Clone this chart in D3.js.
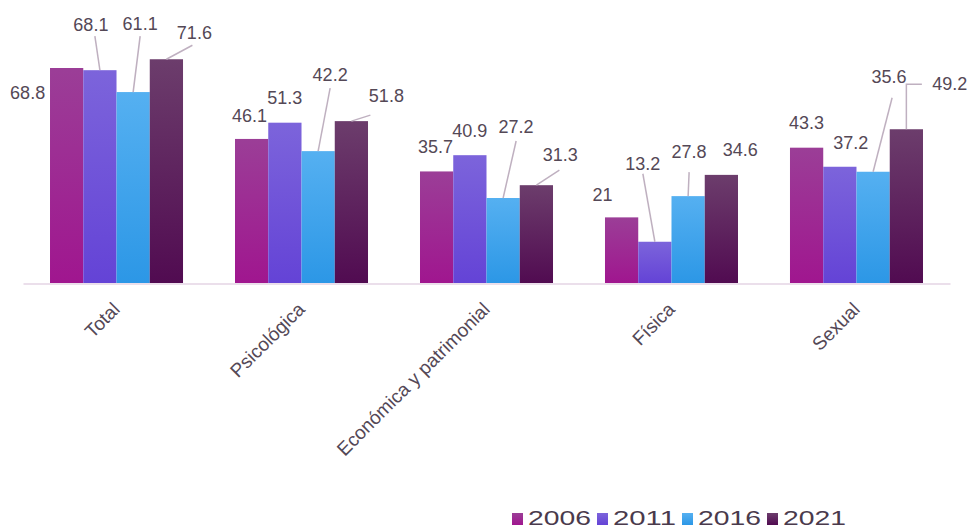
<!DOCTYPE html>
<html>
<head>
<meta charset="utf-8">
<script src="https://cdn.jsdelivr.net/npm/d3@7"></script>
<style>
  html, body { margin: 0; padding: 0; background: #ffffff; }
  svg { display: block; font-family: "Liberation Sans", Arial, sans-serif; }
</style>
</head>
<body>
<svg id="chart" width="968" height="529"></svg>
<script>
// ---- data ----
const categories = ["Total", "Psicológica", "Económica y patrimonial", "Física", "Sexual"];
const years = ["2006", "2011", "2016", "2021"];
const v2006 = [68.8, 46.1, 35.7, 21.0, 43.3];
const v2011 = [68.1, 51.3, 40.9, 13.2, 37.2];
const v2016 = [61.1, 42.2, 27.2, 27.8, 35.6];
const v2021 = [71.6, 51.8, 31.3, 34.6, 49.2];
const labels2006 = ["68.8", "46.1", "35.7", "21", "43.3"];
const labels2011 = ["68.1", "51.3", "40.9", "13.2", "37.2"];
const labels2016 = ["61.1", "42.2", "27.2", "27.8", "35.6"];
const labels2021 = ["71.6", "51.8", "31.3", "34.6", "49.2"];

// ---- layout / style (not data) ----
const colorsTop =    {"2006": "#9b3e97", "2011": "#7c64db", "2016": "#55b0f1", "2021": "#6c3d6c"};
const colorsBottom = {"2006": "#a0168f", "2011": "#6443d6", "2016": "#2c97e6", "2021": "#510b51"};
const textColor = "#544856";
const leaderColor = "#bfb0c0";

// label placement offsets relative to bar top-centre: [dx, dy, leader]
// leader: null | [endDx, endDy] relative to label centre | "elbow"
const labelLayout = {
  "2006": [[-39, 25, null], [-2, -23, null], [-1, -25, null], [-19, -23, null], [0, -25, null]],
  "2011": [[-9, -46, [4, 12]], [0, -25, null], [0, -25, null], [-12, -78, [0, 10]], [11, -24, null]],
  "2016": [[7, -69, [0, 13]], [12, -77, [0, 14]], [13, -71, [0, 14]], [1, -45, [0, 21]], [16, -95, [3, 21]]],
  "2021": [[28, -27, [-2, 13]], [35, -26, [-16, 20]], [24, -31, [-1, 16]], [19, -25, null], [43.5, -46, "elbow"]]
};

const seriesValues = {"2006": v2006, "2011": v2011, "2016": v2016, "2021": v2021};
const seriesLabels = {"2006": labels2006, "2011": labels2011, "2016": labels2016, "2021": labels2021};

const svg = d3.select("#chart");

const x0 = d3.scaleBand().domain(categories).range([23, 950]).paddingInner(0.281).paddingOuter(0.146);
const x1 = d3.scaleBand().domain(years).range([0, x0.bandwidth()]).padding(0);
const y = d3.scaleLinear().domain([0, 80]).range([283, 33]);

// gradients
const defs = svg.append("defs");
years.forEach(yr => {
  const g = defs.append("linearGradient").attr("id", "g" + yr)
    .attr("x1", 0).attr("y1", 0).attr("x2", 0).attr("y2", 1);
  g.append("stop").attr("offset", "0%").attr("stop-color", colorsTop[yr]);
  g.append("stop").attr("offset", "100%").attr("stop-color", colorsBottom[yr]);
});

// bars
const rows = [];
categories.forEach((c, ci) => {
  years.forEach(yr => {
    rows.push({cat: c, ci: ci, year: yr, value: seriesValues[yr][ci], label: seriesLabels[yr][ci]});
  });
});

svg.append("g").selectAll("rect").data(rows).join("rect")
  .attr("x", d => x0(d.cat) + x1(d.year))
  .attr("y", d => y(d.value))
  .attr("width", x1.bandwidth())
  .attr("height", d => y(0) - y(d.value))
  .attr("fill", d => "url(#g" + d.year + ")");

// axis baseline
const xAxis = d3.axisBottom(x0).tickSize(0).tickFormat("");
const axisG = svg.append("g").attr("transform", `translate(0,${y(0) + 0.5})`).call(xAxis);
axisG.select(".domain").attr("stroke", "#e4d4e4").attr("stroke-width", 1.5);

// category labels
svg.append("g").selectAll("text").data(categories).join("text")
  .attr("transform", d => `translate(${x0(d) + x0.bandwidth() / 2 - 5},${y(0) + 18}) rotate(-45)`)
  .attr("text-anchor", "end")
  .attr("dy", "0.71em")
  .attr("font-size", 19)
  .attr("fill", textColor)
  .text(d => d);

// data labels + leaders
const lblG = svg.append("g");
rows.forEach(d => {
  const lay = labelLayout[d.year][d.ci];
  const bx = x0(d.cat) + x1(d.year) + x1.bandwidth() / 2;
  const by = y(d.value);
  const lx = bx + lay[0], ly = by + lay[1];
  const leader = lay[2];
  if (leader === "elbow") {
    const path = d3.path();
    path.moveTo(bx, by);
    path.lineTo(bx, ly + 1);
    path.lineTo(lx - 28, ly + 1);
    lblG.append("path").attr("d", path.toString()).attr("fill", "none")
      .attr("stroke", leaderColor).attr("stroke-width", 1.5);
  } else if (leader) {
    lblG.append("line")
      .attr("x1", bx).attr("y1", by)
      .attr("x2", lx + leader[0]).attr("y2", ly + leader[1])
      .attr("stroke", leaderColor).attr("stroke-width", 1.5);
  }
  lblG.append("text")
    .attr("x", lx).attr("y", ly)
    .attr("dy", "0.36em")
    .attr("text-anchor", "middle")
    .attr("font-size", 18)
    .attr("fill", textColor)
    .text(d.label);
});

// legend
const legX = d3.scalePoint().domain(years).range([512, 767]);
const leg = svg.append("g").selectAll("g").data(years).join("g")
  .attr("transform", d => `translate(${legX(d)},0)`);
leg.append("rect").attr("x", 0).attr("y", 513).attr("width", 11).attr("height", 12)
  .attr("fill", d => "url(#g" + d + ")");
leg.append("text").attr("x", 16).attr("y", 525)
  .attr("font-size", 21)
  .attr("textLength", 63).attr("lengthAdjust", "spacingAndGlyphs")
  .attr("fill", "#4a3a4c")
  .text(d => d);
</script>
</body>
</html>
